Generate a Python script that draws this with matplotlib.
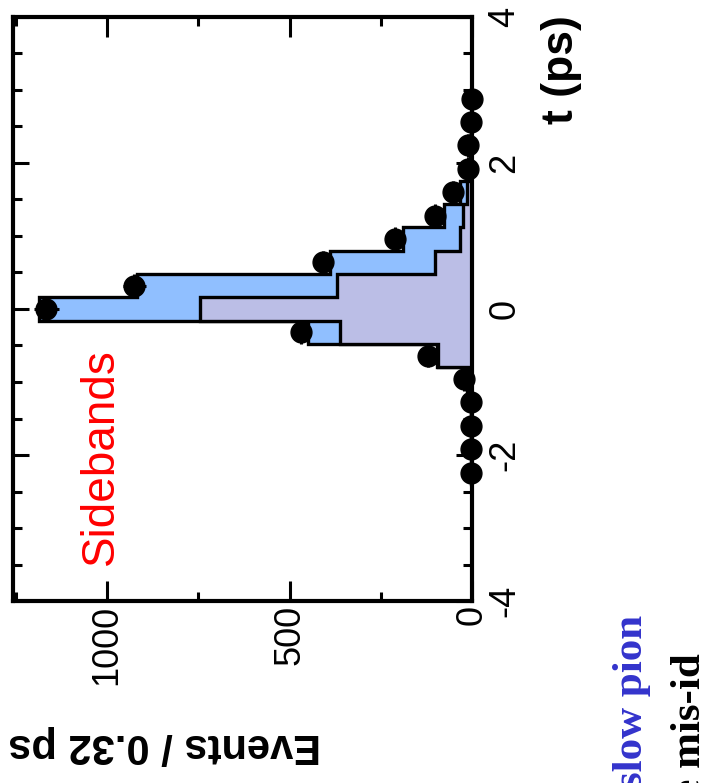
import numpy as np
import matplotlib
matplotlib.use("Agg")
import matplotlib.pyplot as plt
from matplotlib.ticker import MultipleLocator

plt.rcParams["font.family"] = ["Liberation Sans", "DejaVu Sans"]
plt.rcParams["axes.unicode_minus"] = False

# Proper-time binning (ps)
t_min, t_max, n_bins = -4.0, 4.0, 25

# Events per 0.32 ps bin, from t = -4 ps upwards
total_fit = [0, 0, 0, 0, 1, 2, 2, 3, 4, 14, 96, 449, 1186, 919, 389, 189,
             77, 33, 6, 4, 1, 0, 0, 0, 0]
background = [0, 0, 0, 0, 0, 1, 1, 2, 3, 11, 93, 363, 745, 370, 101, 33,
              25, 14, 3, 2, 0, 0, 0, 0, 0]
data = [0, 0, 0, 0, 0, 2, 2, 3, 4, 22, 121, 468, 1167, 925, 408, 210,
        101, 52, 11, 10, 2, 1, 0, 0, 0]

t_ticks = [-4, -2, 0, 2, 4]
t_tick_labels = ["-4", "-2", "0", "2", "4"]
n_ticks = [0, 500, 1000]
n_tick_labels = ["0", "500", "1000"]

edges = np.linspace(t_min, t_max, n_bins + 1)
centers = 0.5 * (edges[:-1] + edges[1:])
half_w = 0.5 * (edges[1] - edges[0])

W, H = 710, 783
fig = plt.figure(figsize=(W / 100, H / 100), dpi=100)
fig.patch.set_facecolor("white")
ax = fig.add_axes([13 / W, (H - 601) / H, 459 / W, 584 / H])

blue = "#90BFFF"
lav = "#BBBEE6"
ax.stairs(total_fit, edges, orientation="horizontal", baseline=0, fill=True,
          facecolor=blue, edgecolor="black", linewidth=2.4, zorder=2)
ax.stairs(background, edges, orientation="horizontal", baseline=0, fill=True,
          facecolor=lav, edgecolor="black", linewidth=2.4, zorder=2.1)

d = np.array(data, dtype=float)
m = d > 0
ax.errorbar(d[m], centers[m], xerr=np.sqrt(d[m]), yerr=half_w, fmt="o",
            ms=15, mfc="black", mec="black", ecolor="black",
            elinewidth=2.2, capsize=0, clip_on=False, zorder=4)

ax.set_ylim(t_min, t_max)
ax.set_xlim(1258, 0)

for s in ax.spines.values():
    s.set_linewidth(3)
    s.set_zorder(5)

ax.xaxis.set_minor_locator(MultipleLocator(250))
ax.yaxis.set_minor_locator(MultipleLocator(0.5))
ax.set_xticks(n_ticks)
ax.set_xticklabels(n_tick_labels, rotation=90, fontsize=26)
ax.set_yticks(t_ticks)
ax.set_yticklabels(t_tick_labels, rotation=90, va="center", fontsize=26)

ax.tick_params(axis="both", which="both", direction="in", top=True,
               bottom=True, left=True, right=True, width=2.2)
ax.tick_params(axis="x", which="major", length=14.5, pad=3)
ax.tick_params(axis="x", which="minor", length=6.5)
ax.tick_params(axis="y", which="major", length=11.5, pad=11,
               labelleft=False, labelright=True)
ax.tick_params(axis="y", which="minor", length=6.5)

ax.set_xlabel("Events / 0.32 ps", rotation=180, ha="left", va="center",
              fontsize=30, fontweight="bold")
ax.xaxis.set_label_coords(-0.01, -0.2466)
ax.yaxis.set_label_position("right")
ax.set_ylabel("t (ps)", rotation=90, ha="right", va="center",
              fontsize=32, fontweight="bold")
ax.yaxis.set_label_coords(1.196, 1.004)

ax.text(0.1917, 0.2474, "Sidebands", transform=ax.transAxes, rotation=90,
        ha="center", va="center", color="red", fontsize=33)

fig.text(632 / W, 1 - 615 / H, "slow pion", rotation=90, ha="center",
         va="top", color="#3333CC", fontsize=31, fontweight="bold",
         family="Liberation Serif")
fig.text(690 / W, 1 - 653 / H, "Particle mis-id", rotation=90, ha="center",
         va="top", color="black", fontsize=31, fontweight="bold",
         family="Liberation Serif")

fig.savefig("out.png", dpi=100, facecolor="white")
